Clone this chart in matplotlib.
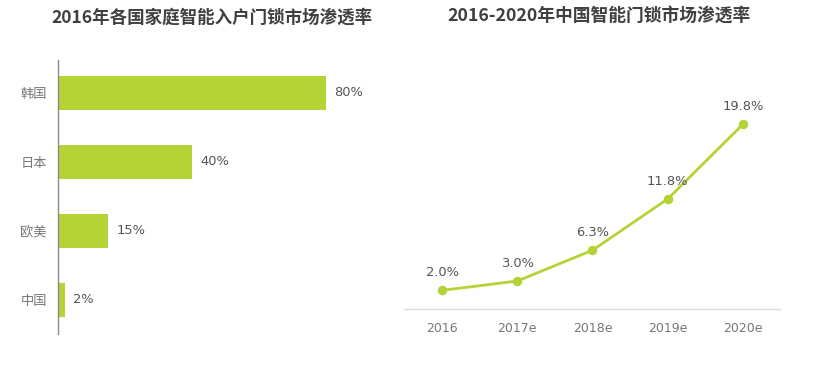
import matplotlib
matplotlib.use("Agg")
import matplotlib.pyplot as plt
from matplotlib.font_manager import FontProperties

# left chart: household smart lock penetration 2016
countries = ["中国", "欧美", "日本", "韩国"]
country_rates = [2, 15, 40, 80]

# right chart: China smart lock penetration
years = ["2016", "2017e", "2018e", "2019e", "2020e"]
china_rates = [2.0, 3.0, 6.3, 11.8, 19.8]

GREEN = "#B4D334"
CJK = ["Noto Sans CJK SC", "DejaVu Sans"]

plt.rcParams["font.family"] = CJK

num_font = FontProperties(family="DejaVu Sans", size=9.4)
year_font = FontProperties(family="DejaVu Sans", size=9.0)

fig = plt.figure(figsize=(8.29, 3.71), dpi=100)
W, H = 829, 371


def px_axes(x0, y0, x1, y1):
    return fig.add_axes([x0 / W, 1 - y1 / H, (x1 - x0) / W, (y1 - y0) / H])


# ---- left: horizontal bars
ax1 = px_axes(58, 60, 390, 334)
ypos = list(range(len(countries)))
ax1.barh(ypos, country_rates, height=0.49, color=GREEN)
ax1.set_xlim(0, 99)
ax1.set_ylim(-0.493, 3.478)
ax1.set_yticks(ypos)
ax1.set_yticklabels(countries, fontsize=9.5, color="#777777")
ax1.tick_params(axis="y", length=0, pad=8)
ax1.set_xticks([])
for s in ["top", "right", "bottom"]:
    ax1.spines[s].set_visible(False)
ax1.spines["left"].set_color("#8c8c8c")
ax1.spines["left"].set_linewidth(1.0)
for y, v in zip(ypos, country_rates):
    ax1.annotate(f"{v}%", (v, y), xytext=(6, 0), textcoords="offset points",
                 va="center", ha="left", color="#555555",
                 fontproperties=num_font)
fig.text(212 / W, 1 - 18 / H, "2016年各国家庭智能入户门锁市场渗透率",
         ha="center", va="center", fontsize=12.6, fontweight="bold",
         color="#404040")

# ---- right: line chart
ax2 = px_axes(404.5, 60, 780.5, 309)
xs = list(range(len(years)))
ax2.plot(xs, china_rates, color=GREEN, lw=2.0, marker="o", ms=5.8,
         markeredgecolor=GREEN, markerfacecolor=GREEN)
ax2.set_xlim(-0.5, 4.5)
ax2.set_ylim(0, 26.7)
ax2.set_xticks(xs)
ax2.set_xticklabels(years, color="#777777", fontproperties=year_font)
ax2.tick_params(axis="x", length=0, pad=9)
ax2.set_yticks([])
for s in ["top", "right", "left"]:
    ax2.spines[s].set_visible(False)
ax2.spines["bottom"].set_color("#d9d9d9")
ax2.spines["bottom"].set_linewidth(1.0)
for x, v in zip(xs, china_rates):
    ax2.annotate(f"{v:.1f}%", (x, v), xytext=(0, 8), textcoords="offset points",
                 va="bottom", ha="center", color="#555555",
                 fontproperties=num_font)
fig.text(599 / W, 1 - 17 / H, "2016-2020年中国智能门锁市场渗透率",
         ha="center", va="center", fontsize=12.8, fontweight="bold",
         color="#404040")

fig.savefig("out.png", dpi=100, facecolor="white")
